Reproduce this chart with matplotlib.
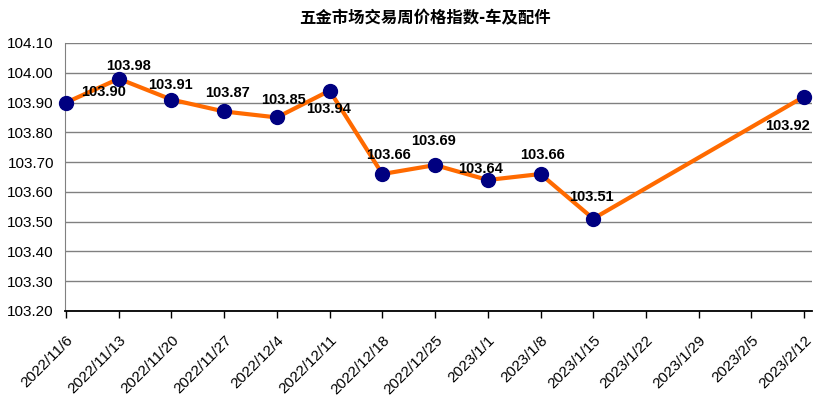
import matplotlib.pyplot as plt

plt.rcParams['font.family'] = ['Liberation Sans', 'Noto Sans CJK SC', 'DejaVu Sans']

title = "五金市场交易周价格指数-车及配件"
dates = ["2022/11/6", "2022/11/13", "2022/11/20", "2022/11/27", "2022/12/4",
         "2022/12/11", "2022/12/18", "2022/12/25", "2023/1/1", "2023/1/8",
         "2023/1/15", "2023/1/22", "2023/1/29", "2023/2/5", "2023/2/12"]
point_dates = ["2022/11/6", "2022/11/13", "2022/11/20", "2022/11/27", "2022/12/4",
               "2022/12/11", "2022/12/18", "2022/12/25", "2023/1/1", "2023/1/8",
               "2023/1/15", "2023/2/12"]
values = [103.90, 103.98, 103.91, 103.87, 103.85, 103.94,
          103.66, 103.69, 103.64, 103.66, 103.51, 103.92]

# label offsets in pixels (dx, dy up)
offsets = [(38, 11), (10, 13), (-1, 15), (3, 18), (7, 17), (-1, -18),
           (6, 19), (-2, 24), (-7, 11), (2, 19), (-2, 22), (-17, -29)]

xs = [dates.index(d) for d in point_dates]

fig = plt.figure(figsize=(8.25, 3.99), dpi=100)
ax = fig.add_axes([65 / 825, 1 - 311 / 399, (812 - 65) / 825, (311 - 43) / 399])

ax.plot(xs, values, color="#FF6A00", linewidth=3, zorder=3)
ax.plot(xs, values, "o", color="#000080", markersize=10, zorder=4, clip_on=False)

for x, v, (dx, dy) in zip(xs, values, offsets):
    ax.annotate(f"{v:.2f}", (x, v), xytext=(dx * 0.72, dy * 0.72),
                textcoords="offset points", ha="center", va="center",
                fontsize=10.5, fontweight="bold", zorder=5)

ax.set_ylim(103.20, 104.10)
ax.set_yticks([103.20 + 0.1 * i for i in range(10)])
ax.set_yticklabels([f"{103.20 + 0.1 * i:.2f}" for i in range(10)], fontsize=11)
ax.set_xlim(-0.02, 14.15)
ax.set_xticks(range(len(dates)))
ax.set_xticklabels(dates, rotation=45, ha="right", va="top",
                   rotation_mode="anchor", fontsize=11)

ax.grid(axis="y", color="#808080", linewidth=1)
ax.set_axisbelow(True)
for s in ["top", "right"]:
    ax.spines[s].set_visible(False)
ax.spines["left"].set_color("#808080")
ax.spines["bottom"].set_color("black")
ax.spines["bottom"].set_linewidth(1.3)
ax.tick_params(axis="y", length=0, pad=8)
ax.tick_params(axis="x", direction="out", length=5, width=1, pad=11)

fig.text(0.515, 1 - 18 / 399, title, ha="center", va="center",
         fontsize=11.8, fontweight="bold", family=["Noto Sans CJK SC", "DejaVu Sans"])

fig.savefig("out.png", dpi=100)
